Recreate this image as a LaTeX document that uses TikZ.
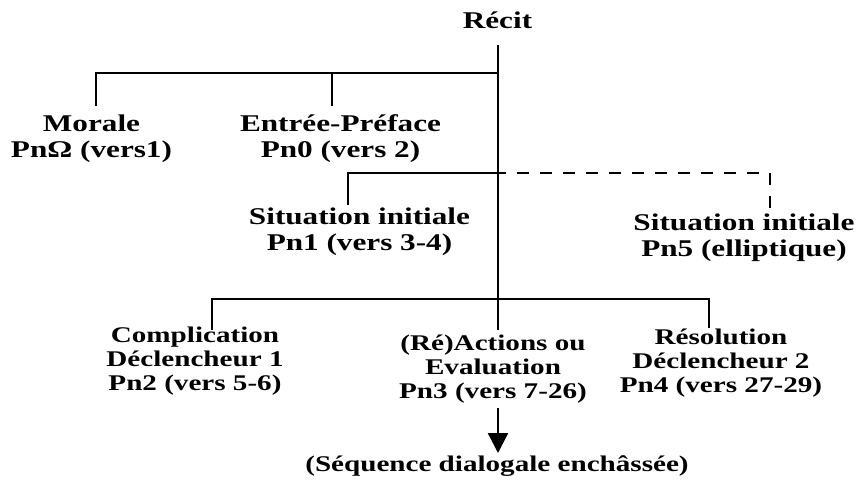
\documentclass[tikz,border=0pt]{standalone}
\usepackage{fontspec}
\setmainfont{Liberation Serif}[FakeStretch=1.3]
\usetikzlibrary{arrows.meta}
\newcommand\fTop{\fontsize{18}{19.5}\selectfont\bfseries}
\newcommand\fBot{\fontsize{16.8}{18}\selectfont\bfseries}
\begin{document}
\begin{tikzpicture}[x=0.75pt,y=-0.75pt,
  lbl/.style={align=center,inner sep=0pt,anchor=base},
  toplbl/.style={lbl,font=\fTop},
  botlbl/.style={lbl,font=\fBot},
  tree/.style={line width=1.7pt},
  dashtree/.style={line width=1.7pt,dash pattern=on 9pt off 8.25pt}]
\useasboundingbox (0,0) rectangle (859,481);
% labels (anchor = baseline of the last line)
\node[toplbl] (recit) at (497.5,29) {Récit};
\node[toplbl] (morale) at (91.5,157) {Morale\\PnΩ (vers1)};
\node[toplbl] (entree) at (340.5,157) {Entrée-Préface\\Pn0 (vers 2)};
\node[toplbl] (sit1) at (359.5,250) {Situation initiale\\Pn1 (vers 3-4)};
\node[toplbl] (sit5) at (744,256) {Situation initiale\\Pn5 (elliptique)};
\node[botlbl] (compl) at (195,390) {Complication\\Déclencheur 1\\Pn2 (vers 5-6)};
\node[botlbl] (actions) at (493,398) {(Ré)Actions ou\\Evaluation\\Pn3 (vers 7-26)};
\node[botlbl] (resol) at (721,392) {Résolution\\Déclencheur 2\\Pn4 (vers 27-29)};
\node[botlbl] (seq) at (497,471) {(Séquence dialogale enchâssée)};
% junctions and ends
\coordinate (top) at (498,45);
\coordinate (ja) at (498,73);
\coordinate (jb) at (498,173);
\coordinate (jc) at (498,299);
\coordinate (bot) at (498,330);
\coordinate (ma) at (96,106);
\coordinate (mb) at (332,106);
\coordinate (mc) at (348,205);
\coordinate (md) at (770,208);
\coordinate (me) at (212,330);
\coordinate (mf) at (709,328);
\coordinate (ar0) at (498,408);
\coordinate (ar1) at (498,453);
% connectors
\draw[tree] (top) -- (bot);
\draw[tree] (ma) |- (ja);
\draw[tree] (mb) -- (mb |- ja);
\draw[tree] (mc) |- (jb);
\draw[dashtree] (md) |- (jb);
\draw[tree] (me) -- (me |- jc) -- (mf |- jc) -- (mf);
\draw[tree,-{Triangle[width=15pt,length=15pt]}] (ar0) -- (ar1);
\end{tikzpicture}
\end{document}
